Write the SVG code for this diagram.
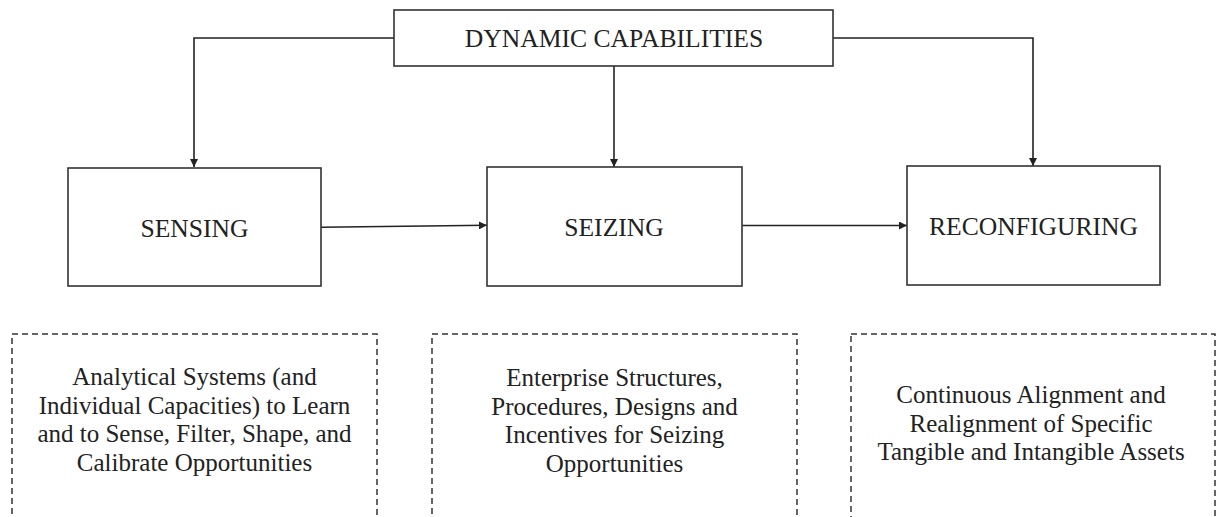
<svg xmlns="http://www.w3.org/2000/svg" width="1216" height="517" viewBox="0 0 1216 517">
<style>
.box{fill:#fff;stroke:#333;stroke-width:1.6}
.dash{fill:none;stroke:#333;stroke-width:1.5;stroke-dasharray:6 4}
.lbl{font-family:"Liberation Serif","Times New Roman",serif;font-size:25.6px;fill:#222;text-anchor:middle}
.body{font-family:"Liberation Serif","Times New Roman",serif;font-size:25px;fill:#222;text-anchor:middle}
.con{fill:none;stroke:#222;stroke-width:1.6}
</style>
<defs>
<marker id="ah" viewBox="0 0 10 10" refX="10" refY="5" markerWidth="8" markerHeight="8" markerUnits="userSpaceOnUse" orient="auto">
<path d="M0,0 L10,5 L0,10 z" fill="#222"/>
</marker>
</defs>
<rect width="1216" height="517" fill="#fff"/>
<g id="connectors">
<path class="con" d="M394,38 H194 V167" marker-end="url(#ah)"/>
<path class="con" d="M614,66 V167" marker-end="url(#ah)"/>
<path class="con" d="M833,38 H1033 V166" marker-end="url(#ah)"/>
<path class="con" d="M321,227.3 L487,225.3" marker-end="url(#ah)"/>
<path class="con" d="M742,225.5 H907" marker-end="url(#ah)"/>
</g>
<g id="dynamic">
<rect class="box" x="394" y="10" width="439" height="56"/>
<text class="lbl" x="614" y="47">DYNAMIC CAPABILITIES</text>
</g>
<g id="sensing">
<rect class="box" x="68" y="168" width="253" height="118"/>
<text class="lbl" x="194.5" y="237">SENSING</text>
</g>
<g id="seizing">
<rect class="box" x="487" y="167" width="255" height="119"/>
<text class="lbl" x="614" y="236">SEIZING</text>
</g>
<g id="reconfiguring">
<rect class="box" x="907" y="166" width="253" height="119"/>
<text class="lbl" x="1033.5" y="235">RECONFIGURING</text>
</g>
<g id="sensing-detail">
<rect class="dash" x="12" y="334" width="365" height="200"/>
<text class="body" x="194.5"><tspan x="194.5" y="385">Analytical Systems (and</tspan><tspan x="194.5" y="413.5">Individual Capacities) to Learn</tspan><tspan x="194.5" y="442">and to Sense, Filter, Shape, and</tspan><tspan x="194.5" y="470.5">Calibrate Opportunities</tspan></text>
</g>
<g id="seizing-detail">
<rect class="dash" x="432" y="334" width="365" height="200"/>
<text class="body" x="614.5"><tspan x="614.5" y="386">Enterprise Structures,</tspan><tspan x="614.5" y="414.5">Procedures, Designs and</tspan><tspan x="614.5" y="443">Incentives for Seizing</tspan><tspan x="614.5" y="471.5">Opportunities</tspan></text>
</g>
<g id="reconfiguring-detail">
<rect class="dash" x="851" y="334" width="364" height="200"/>
<text class="body" x="1031"><tspan x="1031" y="403">Continuous Alignment and</tspan><tspan x="1031" y="431.5">Realignment of Specific</tspan><tspan x="1031" y="460">Tangible and Intangible Assets</tspan></text>
</g>
</svg>
